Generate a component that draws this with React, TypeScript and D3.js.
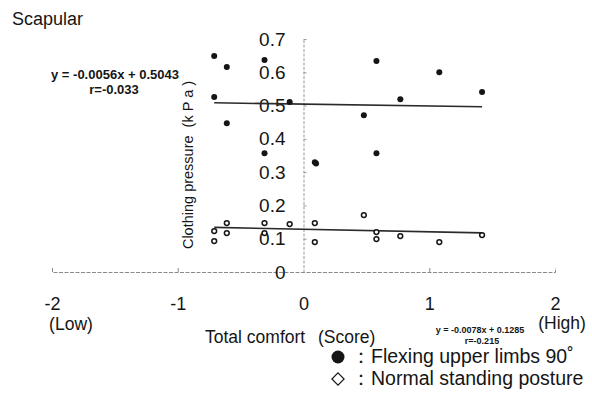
import * as d3 from "d3";
import { useEffect, useRef } from "react";

// comfort score (x) and clothing pressure in kPa (y)
const flexX = [-0.71, -0.71, -0.61, -0.61, -0.31, -0.31, -0.11, 0.09, 0.1, 0.48, 0.58, 0.58, 0.77, 1.08, 1.42];
const flexY = [0.649, 0.526, 0.616, 0.447, 0.637, 0.357, 0.511, 0.33, 0.326, 0.471, 0.634, 0.357, 0.519, 0.6, 0.541];

const standX = [-0.71, -0.71, -0.61, -0.61, -0.31, -0.31, -0.11, 0.09, 0.09, 0.48, 0.58, 0.58, 0.77, 1.08, 1.42];
const standY = [0.123, 0.093, 0.147, 0.117, 0.147, 0.117, 0.144, 0.147, 0.09, 0.171, 0.12, 0.099, 0.108, 0.09, 0.111];

const xTicks = [-2, -1, 0, 1, 2];
const yTicks = [0, 0.1, 0.2, 0.3, 0.4, 0.5, 0.6, 0.7];

// regression: [slope, intercept]
const flexFit = [-0.0056, 0.5043];
const standFit = [-0.0078, 0.1285];
const fitRange = [-0.71, 1.42];

const FONT = "'Liberation Sans', Arial, Helvetica, sans-serif";
const INK = "#151515";

export default function App() {
	const svgRef = useRef<SVGSVGElement>(null);

	useEffect(() => {
		if (!svgRef.current) return;
		const svg = d3.select(svgRef.current);
		svg.selectAll("*").remove();

		const x = d3.scaleLinear().domain([-2, 2]).range([52, 555]);
		const y = d3.scaleLinear().domain([0, 0.7]).range([272, 39]);
		const x0 = x(0);
		const y0 = y(0);

		svg.append("rect").attr("width", 592).attr("height", 395).attr("fill", "#fff");

		// x axis: line with small ticks upward, labels below
		svg.append("g")
			.attr("transform", `translate(0,${y0})`)
			.call(d3.axisTop(x).tickValues([-1, 1]).tickSize(4).tickFormat(() => ""))
			.call((g) => g.selectAll("line, path").attr("stroke", "#8a8a8a").attr("stroke-dasharray", "4,1.5"));

		svg.append("g")
			.attr("transform", `translate(0,${y0})`)
			.call(d3.axisBottom(x).tickValues(xTicks).tickSize(0).tickPadding(25).tickFormat((d) => String(d)))
			.call((g) => g.select(".domain").remove())
			.selectAll("text")
			.attr("font-family", FONT)
			.attr("font-size", 18)
			.attr("fill", INK);

		// y axis: line with small ticks to the right, labels left
		svg.append("g")
			.attr("transform", `translate(${x0},0)`)
			.call(d3.axisRight(y).tickValues(yTicks.slice(1)).tickSize(3).tickSizeOuter(0).tickFormat(() => ""))
			.call((g) => g.selectAll("line, path").attr("stroke", "#9a9a9a").attr("stroke-dasharray", "3,1.5"));

		svg.append("g")
			.attr("transform", `translate(${x0},0)`)
			.call(
				d3.axisLeft(y)
					.tickValues(yTicks)
					.tickSize(0)
					.tickPadding(18)
					.tickFormat((d) => (d === 0 ? "0" : d3.format(".1f")(d as number))),
			)
			.call((g) => g.select(".domain").remove())
			.selectAll("text")
			.attr("font-family", FONT)
			.attr("font-size", 19)
			.attr("fill", INK);

		// regression lines
		[flexFit, standFit].forEach(([m, b]) => {
			svg.append("line")
				.attr("x1", x(fitRange[0]))
				.attr("x2", x(fitRange[1]))
				.attr("y1", y(m * fitRange[0] + b))
				.attr("y2", y(m * fitRange[1] + b))
				.attr("stroke", "#2a2a2a")
				.attr("stroke-width", 1.6);
		});

		// points
		svg.append("g")
			.selectAll("circle")
			.data(flexX.map((v, i) => [v, flexY[i]]))
			.enter()
			.append("circle")
			.attr("cx", (d) => x(d[0]))
			.attr("cy", (d) => y(d[1]))
			.attr("r", 3)
			.attr("fill", INK);

		svg.append("g")
			.selectAll("circle")
			.data(standX.map((v, i) => [v, standY[i]]))
			.enter()
			.append("circle")
			.attr("cx", (d) => x(d[0]))
			.attr("cy", (d) => y(d[1]))
			.attr("r", 2.4)
			.attr("fill", "#fff")
			.attr("stroke", INK)
			.attr("stroke-width", 1.5);

		const text = (tx: number, ty: number, s: string, size: number, opts: Record<string, string | number> = {}) => {
			const t = svg.append("text")
				.attr("x", tx)
				.attr("y", ty)
				.attr("font-family", FONT)
				.attr("font-size", size)
				.attr("fill", INK)
				.text(s);
			Object.entries(opts).forEach(([k, v]) => t.attr(k, v));
			return t;
		};

		text(12, 25, "Scapular", 18);

		// fit annotations
		text(115, 79, "y = -0.0056x + 0.5043", 13, { "text-anchor": "middle", "font-weight": "bold" });
		text(114, 94, "r=-0.033", 13, { "text-anchor": "middle", "font-weight": "bold" });
		text(480, 333, "y = -0.0078x + 0.1285", 9, { "text-anchor": "middle", "font-weight": "bold" });
		text(482, 344, "r=-0.215", 9, { "text-anchor": "middle", "font-weight": "bold" });

		// axis titles
		text(0, 0, "Clothing pressure  (k P a )", 14.5, {
			"text-anchor": "middle",
			transform: "translate(193,165) rotate(-90)",
		}).style("white-space", "pre");
		text(205, 343, "Total comfort", 17.5);
		text(318, 343, "(Score)", 17.5);
		text(71, 330, "(Low)", 17.5, { "text-anchor": "middle" });
		text(562, 329, "(High)", 17.5, { "text-anchor": "middle" });

		// legend
		svg.append("circle").attr("cx", 338).attr("cy", 357).attr("r", 6.5).attr("fill", INK);
		text(351, 363, "：Flexing upper limbs 90˚", 19.5);
		svg.append("path")
			.attr("d", d3.symbol(d3.symbolDiamond2, 95)())
			.attr("transform", "translate(338,379)")
			.attr("fill", "none")
			.attr("stroke", INK)
			.attr("stroke-width", 1.2);
		text(351, 385, "：Normal standing posture", 19.5);
	}, []);

	return <svg ref={svgRef} width={592} height={395} style={{ position: "absolute", left: 0, top: 0 }} />;
}
